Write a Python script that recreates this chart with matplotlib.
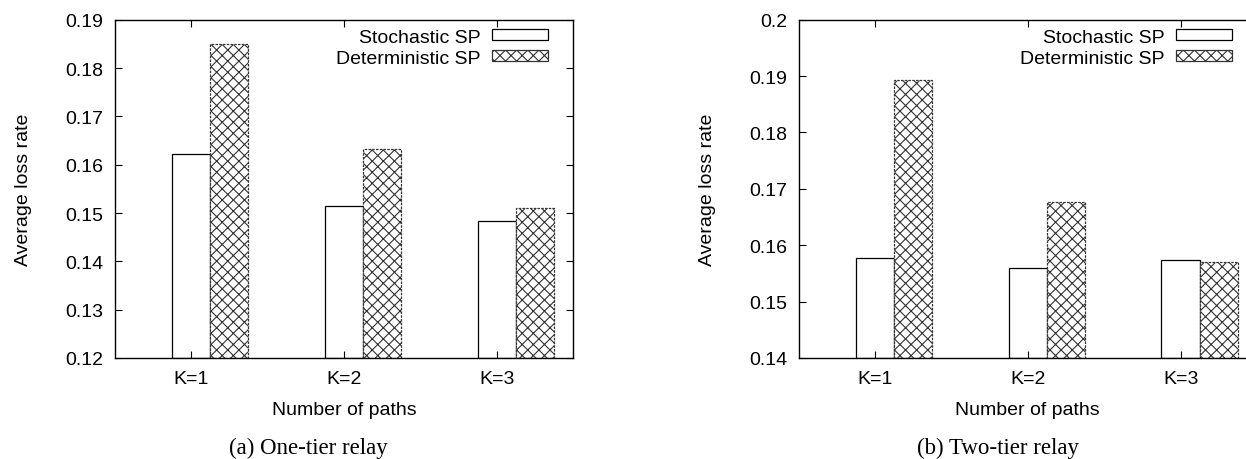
import numpy as np
import matplotlib
matplotlib.use("Agg")
from matplotlib import pyplot as plt
from matplotlib.patches import Patch

categories = ["K=1", "K=2", "K=3"]
series_names = ["Stochastic SP", "Deterministic SP"]

# (a) One-tier relay
one_tier_stochastic = [0.1622, 0.1514, 0.1483]
one_tier_deterministic = [0.1850, 0.1633, 0.1510]
# (b) Two-tier relay
two_tier_stochastic = [0.1577, 0.1559, 0.1573]
two_tier_deterministic = [0.1893, 0.1676, 0.1571]

plt.rcParams['font.family'] = ['Liberation Sans', 'DejaVu Sans']
plt.rcParams['hatch.linewidth'] = 0.8
plt.rcParams['hatch.color'] = '#333333'

FONT = 14
BAR_W = 0.25
HATCH = 'xxx'


def draw_panel(ax, stoch, det, ylim, yticks, ytick_labels, caption, caption_x):
    x = np.arange(len(categories))
    ax.bar(x, [v - ylim[0] for v in stoch], BAR_W, bottom=ylim[0], align='center',
           facecolor='white', edgecolor='black', linewidth=0.9)
    ax.bar(x + BAR_W, [v - ylim[0] for v in det], BAR_W, bottom=ylim[0], align='center',
           facecolor='white', edgecolor='#333333', linewidth=0.9, linestyle=(0, (2, 1)),
           hatch=HATCH)
    ax.set_xlim(-0.5, 2.5)
    ax.set_ylim(*ylim)
    ax.set_xticks(x)
    ax.set_xticklabels(categories, fontsize=FONT)
    ax.set_yticks(yticks)
    ax.set_yticklabels(ytick_labels, fontsize=FONT)
    ax.tick_params(direction='in', top=True, right=True, length=5, width=0.8)
    ax.tick_params(axis='x', pad=9)
    ax.tick_params(axis='y', pad=8)
    for s in ax.spines.values():
        s.set_linewidth(1.0)
    ax.set_xlabel('Number of paths', fontsize=FONT, labelpad=10)
    ax.set_ylabel('Average loss rate', fontsize=FONT)
    ax.yaxis.set_label_coords(-0.18, 0.5)

    handles = [Patch(facecolor='white', edgecolor='black', linewidth=0.9),
               Patch(facecolor='white', edgecolor='#333333', linewidth=0.9, hatch=HATCH)]
    ax.legend(handles, series_names, loc='upper right', bbox_to_anchor=(0.945, 0.973),
              frameon=False, fontsize=FONT, markerfirst=False, handlelength=2.85,
              handleheight=0.5, handletextpad=0.6, labelspacing=0.2, borderaxespad=0.0,
              borderpad=0.0)
    fig.text(caption_x, 1 - 448 / 460, caption, ha='center', va='center', fontsize=16.5,
             family=['Liberation Serif', 'DejaVu Serif'])


fig = plt.figure(figsize=(12.46, 4.6), dpi=100)
ax1 = fig.add_axes([0.0920, 0.2196, 0.3679, 0.7354])
ax2 = fig.add_axes([0.6409, 0.2196, 0.3679, 0.7354])

draw_panel(ax1, one_tier_stochastic, one_tier_deterministic, (0.12, 0.19),
           [0.12, 0.13, 0.14, 0.15, 0.16, 0.17, 0.18, 0.19],
           ['0.12', '0.13', '0.14', '0.15', '0.16', '0.17', '0.18', '0.19'],
           '(a) One-tier relay', 308 / 1246)
draw_panel(ax2, two_tier_stochastic, two_tier_deterministic, (0.14, 0.20),
           [0.14, 0.15, 0.16, 0.17, 0.18, 0.19, 0.20],
           ['0.14', '0.15', '0.16', '0.17', '0.18', '0.19', '0.2'],
           '(b) Two-tier relay', 998 / 1246)

fig.savefig('out.png', dpi=100)
